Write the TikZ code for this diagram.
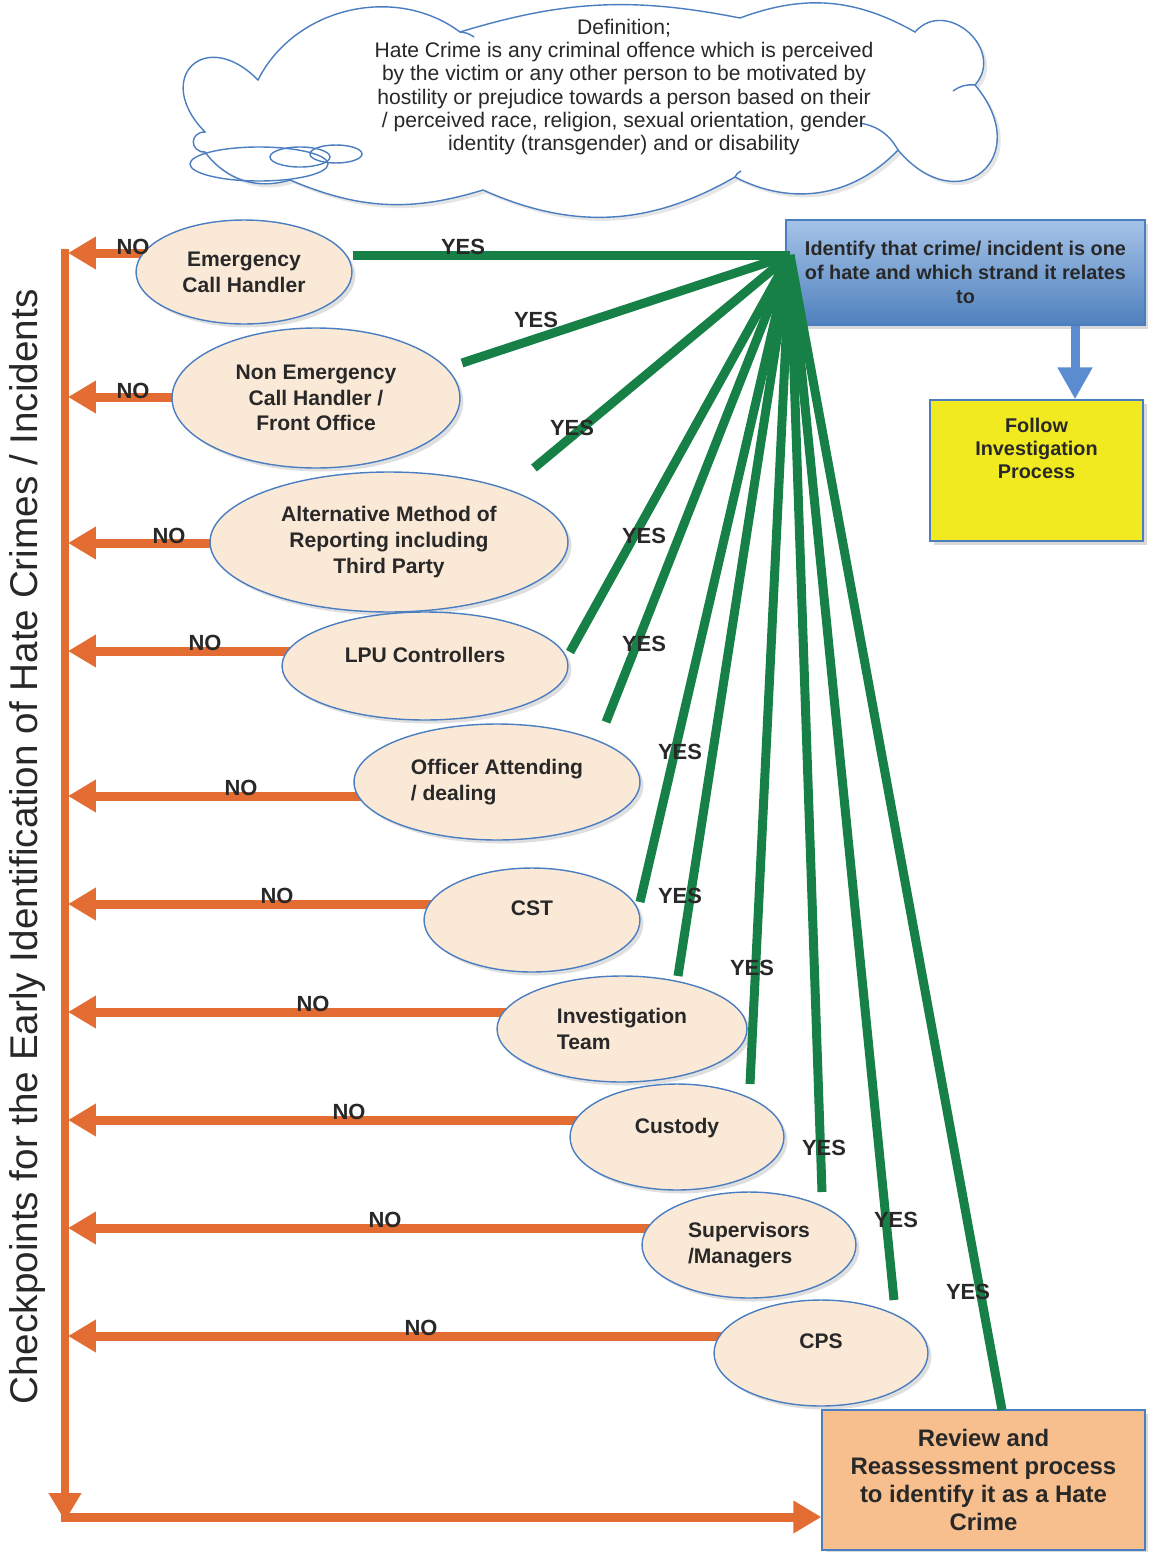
\documentclass[tikz,border=0pt]{standalone}
\usepackage{fontspec}
\setmainfont{Liberation Sans}
\usepackage{tikz}
\usetikzlibrary{shapes.geometric,arrows.meta,shadows}
\definecolor{noorange}{RGB}{226,108,50}
\definecolor{yesgreen}{RGB}{22,128,70}
\definecolor{ellfill}{RGB}{251,233,216}
\definecolor{ellline}{RGB}{74,126,193}
\definecolor{idtop}{RGB}{165,195,232}
\definecolor{idbot}{RGB}{79,129,189}
\definecolor{idblue}{RGB}{91,140,208}
\definecolor{followyellow}{RGB}{242,234,32}
\definecolor{reviewfill}{RGB}{247,190,142}
\definecolor{txt}{RGB}{40,40,40}
\pgfdeclarelayer{background}
\pgfsetlayers{background,main}
\tikzset{
  check/.style={ellipse, draw=ellline, line width=0.8pt, fill=ellfill, inner sep=0pt,
    align=center, text=txt, font=\fontsize{12}{14.7}\selectfont\bfseries,
    drop shadow={shadow xshift=2pt, shadow yshift=-2pt, opacity=0.25}},
  single/.style={text depth=13pt},
  yesline/.style={draw=yesgreen, line width=0.18cm},
  noarrow/.style={draw=noorange, line width=0.18cm, -{Triangle[length=0.56cm,width=0.62cm]}},
  ans/.style={text=txt, inner sep=0pt, font=\fontsize{12.5}{14}\selectfont\bfseries},
  procbox/.style={rectangle, draw=ellline, line width=0.8pt, inner sep=0pt, align=center, text=txt,
    drop shadow={shadow xshift=2pt, shadow yshift=-2pt, opacity=0.3}},
  cloudline/.style={draw=ellline, line width=0.8pt},
}
\begin{document}
\begin{tikzpicture}[x=0.02cm,y=-0.02cm]
\useasboundingbox (0,0) rectangle (1151,1552);

% definition cloud
\draw[cloudline, fill=white, drop shadow={shadow xshift=2pt, shadow yshift=-2pt, opacity=0.2}]
  (205,132) to[bend left=90, looseness=2.6] (258,80)
  to[bend left=50] (460,32)
  to[bend left=14] (740,18)
  to[bend left=25] (915,32)
  to[bend left=90, looseness=1.5] (975,85)
  to[bend left=90, looseness=2.4] (898,150)
  to[bend left=37] (735,177)
  to[bend left=27] (483,190)
  to[bend left=20] (290,180)
  to[bend left=35] (205,152)
  to[bend left=90, looseness=2] (205,132) -- cycle;
\draw[cloudline] (460,32) to[bend left=15] (474,37);
\draw[cloudline] (975,85) to[bend right=20] (953,91);
\draw[cloudline] (898,150) to[bend right=25] (860,123);
\draw[cloudline] (735,177) to[bend left=20] (741,171);
\draw[cloudline] (259,164) ellipse [x radius=69, y radius=17];
\draw[cloudline] (300,157) ellipse [x radius=30, y radius=10];
\draw[cloudline] (336,154) ellipse [x radius=26, y radius=9];
\node[align=center, text=txt, font=\fontsize{12}{13.3}\selectfont] (deftxt) at (624,87)
  {Definition;\\Hate Crime is any criminal offence which is perceived\\
   by the victim or any other person to be motivated by\\
   hostility or prejudice towards a person based on their\\
   / perceived race, religion, sexual orientation, gender\\
   identity (transgender) and or disability};

% title
\node[rotate=90, text=txt, font=\fontsize{22}{26}\selectfont] (title) at (28,847)
  {Checkpoints for the Early Identification of Hate Crimes / Incidents};

% checkpoints
\node[check, minimum width=4.32cm, minimum height=2.08cm] (emerg) at (244,272) {Emergency\\Call Handler};
\node[check, minimum width=5.76cm, minimum height=2.8cm] (nonemerg) at (316,398) {Non Emergency\\Call Handler /\\Front Office};
\node[check, minimum width=7.16cm, minimum height=2.8cm] (altmethod) at (389,542) {Alternative Method of\\Reporting including\\Third Party};
\node[check, single, minimum width=5.72cm, minimum height=2.16cm] (lpu) at (425,666) {LPU Controllers};
\node[check, align=left, minimum width=5.72cm, minimum height=2.32cm] (officer) at (497,782) {Officer Attending\\/ dealing};
\node[check, single, minimum width=4.32cm, minimum height=2.08cm] (cst) at (532,920) {CST};
\node[check, align=left, minimum width=5.0cm, minimum height=2.12cm] (invteam) at (622,1029) {Investigation\\Team};
\node[check, single, minimum width=4.28cm, minimum height=2.12cm] (custody) at (677,1137) {Custody};
\node[check, align=left, minimum width=4.28cm, minimum height=2.12cm] (superv) at (749,1245) {Supervisors\\/Managers};
\node[check, single, minimum width=4.28cm, minimum height=2.12cm] (cps) at (821,1353) {CPS};

% outcome boxes
\node[procbox, top color=idtop, bottom color=idbot, minimum width=7.18cm, minimum height=2.1cm,
  font=\fontsize{11.3}{13.6}\selectfont\bfseries] (ident) at (965.5,272.5)
  {Identify that crime/ incident is one\\of hate and which strand it relates\\to};
\node[procbox, fill=followyellow, minimum width=4.26cm, minimum height=2.82cm,
  label={[anchor=north, yshift=-0.36cm, inner sep=0pt, align=center, text=txt,
          font=\fontsize{11.3}{13.3}\selectfont\bfseries]north:Follow\\Investigation\\Process}] (follow) at (1036.5,470.5) {};
\node[procbox, fill=reviewfill, minimum width=6.46cm, minimum height=2.8cm,
  font=\fontsize{13.6}{16}\selectfont\bfseries] (review) at (983.5,1480)
  {Review and\\Reassessment process\\to identify it as a Hate\\Crime};

\coordinate (bluex) at (1075,0);
\draw[draw=idblue, line width=0.18cm, -{Triangle[length=0.64cm,width=0.66cm]}]
  (ident.south -| bluex) -- (follow.north -| bluex);

% NO side
\coordinate (trunktop) at (65,249);
\coordinate (trunkbot) at (65,1521);
\coordinate (corner) at (61,1517);
\coordinate (n1) at (68,253);
\coordinate (n2) at (68,397);
\coordinate (n3) at (68,543);
\coordinate (n4) at (68,651);
\coordinate (n5) at (68,796);
\coordinate (n6) at (68,904);
\coordinate (n7) at (68,1012);
\coordinate (n8) at (68,1120);
\coordinate (n9) at (68,1228);
\coordinate (n10) at (68,1336);
\begin{pgfonlayer}{background}
\draw[noarrow] (trunktop) -- (trunkbot);
\draw[noarrow] (corner) -- (corner -| review.west);
\draw[noarrow] (emerg |- n1) -- (n1);
\draw[noarrow] (nonemerg |- n2) -- (n2);
\draw[noarrow] (altmethod |- n3) -- (n3);
\draw[noarrow] (lpu |- n4) -- (n4);
\draw[noarrow] (officer |- n5) -- (n5);
\draw[noarrow] (cst |- n6) -- (n6);
\draw[noarrow] (invteam |- n7) -- (n7);
\draw[noarrow] (custody |- n8) -- (n8);
\draw[noarrow] (superv |- n9) -- (n9);
\draw[noarrow] (cps |- n10) -- (n10);
\end{pgfonlayer}
\node[ans] (no1) at (133,247) {NO};
\node[ans] (no2) at (133,391) {NO};
\node[ans] (no3) at (169,536) {NO};
\node[ans] (no4) at (205,643) {NO};
\node[ans] (no5) at (241,788) {NO};
\node[ans] (no6) at (277,896) {NO};
\node[ans] (no7) at (313,1004) {NO};
\node[ans] (no8) at (349,1112) {NO};
\node[ans] (no9) at (385,1220) {NO};
\node[ans] (no10) at (421,1328) {NO};

% YES side
\coordinate (hub) at (790,255);
\coordinate (g2) at (462,363);
\coordinate (g3) at (534,468);
\coordinate (g4) at (570,652);
\coordinate (g5) at (606,722);
\coordinate (g6) at (640,902);
\coordinate (g7) at (678,976);
\coordinate (g8) at (750,1084);
\coordinate (g9) at (822,1192);
\coordinate (g10) at (894,1300);
\coordinate (g11) at (1002,1410);
\draw[yesline] (emerg.east |- hub) -- (hub);
\draw[yesline] (g2) -- (hub);
\draw[yesline] (g3) -- (hub);
\draw[yesline] (g4) -- (hub);
\draw[yesline] (g5) -- (hub);
\draw[yesline] (g6) -- (hub);
\draw[yesline] (g7) -- (hub);
\draw[yesline] (g8) -- (hub);
\draw[yesline] (g9) -- (hub);
\draw[yesline] (g10) -- (hub);
\draw[yesline] (g11) -- (hub);
\node[ans] (yes1) at (463,247) {YES};
\node[ans] (yes2) at (536,320) {YES};
\node[ans] (yes3) at (572,428) {YES};
\node[ans] (yes4) at (644,536) {YES};
\node[ans] (yes5) at (644,644) {YES};
\node[ans] (yes6) at (680,752) {YES};
\node[ans] (yes7) at (680,896) {YES};
\node[ans] (yes8) at (752,968) {YES};
\node[ans] (yes9) at (824,1148) {YES};
\node[ans] (yes10) at (896,1220) {YES};
\node[ans] (yes11) at (968,1292) {YES};
\end{tikzpicture}
\end{document}
